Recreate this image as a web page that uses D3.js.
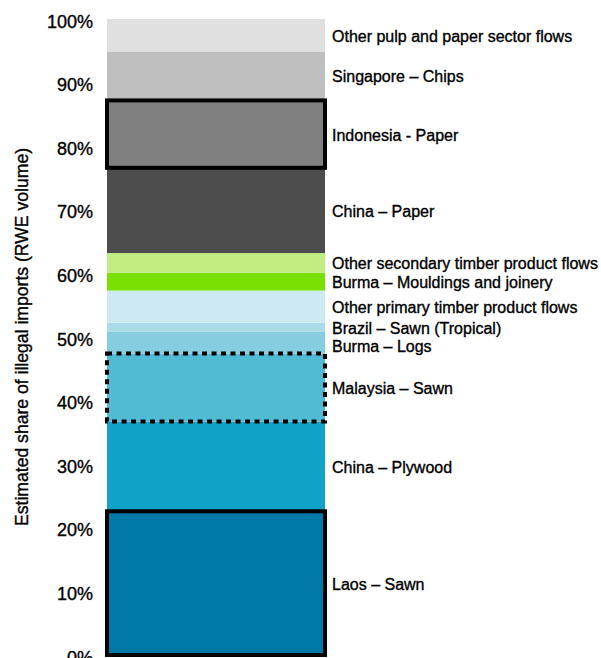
<!DOCTYPE html>
<html>
<head>
<meta charset="utf-8">
<script src="https://cdn.jsdelivr.net/npm/d3@7"></script>
<style>
  html, body { margin: 0; padding: 0; background: #fff; }
  svg { display: block; font-family: "Liberation Sans", Arial, sans-serif; }
  svg text { stroke: #000; stroke-width: 0.35px; }
</style>
</head>
<body>
<svg id="chart" width="601" height="658"></svg>
<script>
// Trade flows, stacked bottom to top
const flows = [
  "Laos – Sawn",
  "China – Plywood",
  "Malaysia – Sawn",
  "Burma – Logs",
  "Brazil – Sawn (Tropical)",
  "Other primary timber product flows",
  "Burma – Mouldings and joinery",
  "Other secondary timber product flows",
  "China – Paper",
  "Indonesia - Paper",
  "Singapore – Chips",
  "Other pulp and paper sector flows"
];
// Estimated share of illegal imports (%), same order
const shares = [22.6, 14.1, 10.7, 3.4, 1.45, 5.05, 2.8, 3.1, 13.4, 10.6, 7.7, 5.1];
const fills = ["#0079a8", "#11a3c6", "#52bbd4", "#86cde0", "#a9dce7", "#cdeaf2",
               "#79e000", "#c0ee80", "#4d4d4d", "#808080", "#bfbfbf", "#e0e0e0"];
// Highlight style per flow: "solid", "dashed" or none
const outlines = ["solid", null, "dashed", null, null, null, null, null, null, "solid", null, null];
const tickValues = [0, 10, 20, 30, 40, 50, 60, 70, 80, 90, 100];

const svg = d3.select("#chart");

const y = d3.scaleLinear().domain([0, 100]).range([655, 19]);
const x = d3.scaleBand().domain(["share"]).range([107, 325]).padding(0);

// cumulative extents
let acc = 0;
const segs = flows.map((name, i) => {
  const s = { name, value: shares[i], y0: acc, y1: acc + shares[i], fill: fills[i], outline: outlines[i] };
  acc += shares[i];
  return s;
});

// Stacked segments
svg.append("g").selectAll("rect")
  .data(segs)
  .join("rect")
  .attr("x", x("share"))
  .attr("width", x.bandwidth())
  .attr("y", d => y(d.y1))
  .attr("height", d => y(d.y0) - y(d.y1))
  .attr("fill", d => d.fill);

// Highlight outlines
svg.append("g").selectAll("rect")
  .data(segs.filter(d => d.outline))
  .join("rect")
  .attr("x", x("share"))
  .attr("width", x.bandwidth())
  .attr("y", d => y(d.y1))
  .attr("height", d => y(d.y0) - y(d.y1))
  .attr("fill", "none")
  .attr("stroke", "#000")
  .attr("stroke-width", 4)
  .attr("stroke-dasharray", d => d.outline === "dashed" ? "5,4.5" : null);

// Y axis
const axis = svg.append("g")
  .attr("transform", "translate(93,0)")
  .call(d3.axisLeft(y).tickValues(tickValues).tickSize(0).tickPadding(0).tickFormat(d => d + "%"));
axis.select(".domain").remove();
axis.selectAll("text")
  .attr("font-family", "Liberation Sans, Arial, sans-serif")
  .attr("font-size", 18)
  .attr("fill", "#000")
  .attr("dy", "0.45em");

// Axis title
svg.append("text")
  .attr("transform", "translate(28," + y(50) + ") rotate(-90)")
  .attr("text-anchor", "middle")
  .attr("font-size", 17.6)
  .attr("fill", "#000")
  .text("Estimated share of illegal imports (RWE volume)");

// Flow labels at segment centres, nudged apart where segments are thin
const minGap = 18;
const labelPos = segs.map(d => (y(d.y0) + y(d.y1)) / 2);
for (let i = 1; i < labelPos.length; i++) {
  if (labelPos[i - 1] - labelPos[i] < minGap) labelPos[i - 1] = labelPos[i] + minGap;
}
svg.append("g").selectAll("text")
  .data(segs)
  .join("text")
  .attr("x", 332)
  .attr("y", (d, i) => labelPos[i])
  .attr("dy", "0.4em")
  .attr("font-size", 16)
  .attr("fill", "#000")
  .text(d => d.name);
</script>
</body>
</html>
